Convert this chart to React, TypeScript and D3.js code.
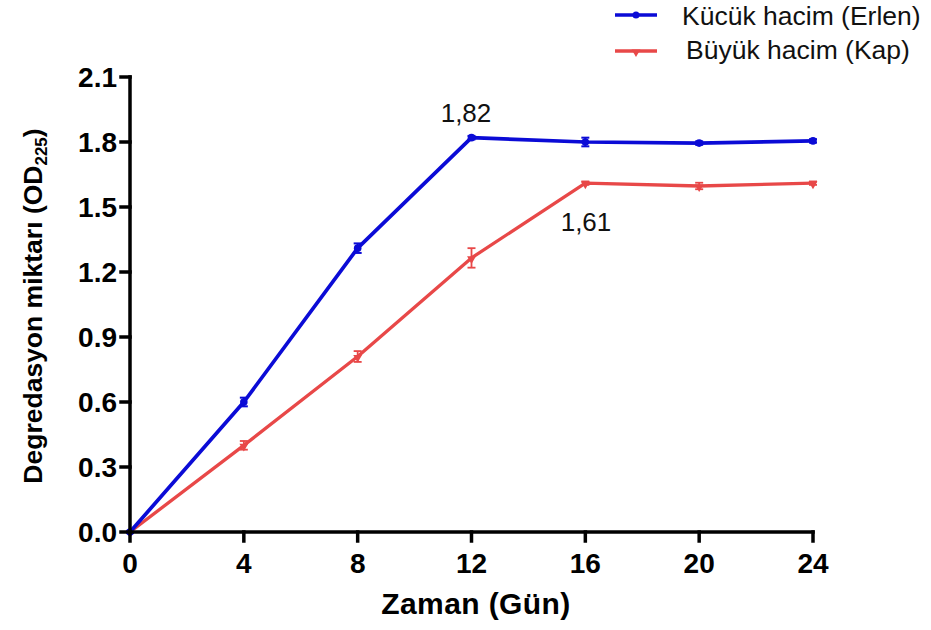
import React from "react";
import * as d3 from "d3";

// Sampling days
const days = [0, 4, 8, 12, 16, 20, 24];

// Small volume (flask) series
const smallVolume = [0, 0.6, 1.31, 1.82, 1.8, 1.795, 1.805];
const smallVolumeErr = [0.005, 0.02, 0.022, 0.008, 0.02, 0.008, 0.008];

// Large volume (container) series
const largeVolume = [0, 0.4, 0.81, 1.265, 1.61, 1.597, 1.61];
const largeVolumeErr = [0.005, 0.02, 0.025, 0.045, 0.008, 0.015, 0.008];

const xTicks = [0, 4, 8, 12, 16, 20, 24];
const yTicks = [0, 0.3, 0.6, 0.9, 1.2, 1.5, 1.8, 2.1];

const seriesNames = ["Kücük hacim (Erlen)", "Büyük hacim (Kap)"];
const peakLabels = ["1,82", "1,61"];

const W = 931;
const H = 630;
const BLUE = "#0b0bd6";
const RED = "#e84848";
const FONT = "'Liberation Sans', Arial, sans-serif";

export default function App() {
  const x = d3.scaleLinear().domain([0, 24]).range([130, 813]);
  const y = d3.scaleLinear().domain([0, 2.1]).range([532, 77]);

  const line = d3
    .line<[number, number]>()
    .x((d) => x(d[0]))
    .y((d) => y(d[1]));

  const blueData = days.map((d, i) => [d, smallVolume[i]] as [number, number]);
  const redData = days.map((d, i) => [d, largeVolume[i]] as [number, number]);

  const tri = d3.symbol().type(d3.symbolTriangle).size(34)();

  const errorBars = (vals: number[], errs: number[], color: string, w: number) =>
    days.map((d, i) => {
      const cx = x(d);
      const y0 = y(vals[i] - errs[i]);
      const y1 = y(vals[i] + errs[i]);
      return (
        <g key={`e${i}`} stroke={color} strokeWidth={w}>
          <line x1={cx} x2={cx} y1={y0} y2={y1} />
          <line x1={cx - 4} x2={cx + 4} y1={y0} y2={y0} />
          <line x1={cx - 4} x2={cx + 4} y1={y1} y2={y1} />
        </g>
      );
    });

  return (
    <svg
      width={W}
      height={H}
      style={{ position: "absolute", left: 0, top: 0, background: "#fff" }}
      fontFamily={FONT}
    >
      {/* Legend */}
      <g>
        <line x1={615} x2={657} y1={15} y2={15} stroke={BLUE} strokeWidth={3.5} />
        <circle cx={636} cy={15} r={3.5} fill={BLUE} />
        <text x={682} y={25} fontSize={26.5} fill="#111">
          {seriesNames[0]}
        </text>
        <line x1={615} x2={657} y1={51} y2={51} stroke={RED} strokeWidth={3.5} />
        <path d={tri!} transform={`translate(636,52) rotate(180)`} fill={RED} />
        <text x={686} y={59} fontSize={26.5} fill="#111">
          {seriesNames[1]}
        </text>
      </g>

      {/* Series lines */}
      <path d={line(redData)!} fill="none" stroke={RED} strokeWidth={3.3} strokeLinejoin="round" />
      <path d={line(blueData)!} fill="none" stroke={BLUE} strokeWidth={3.7} strokeLinejoin="round" />

      {errorBars(largeVolume, largeVolumeErr, RED, 1.8)}
      {errorBars(smallVolume, smallVolumeErr, BLUE, 2)}

      {redData.map((d, i) => (
        <path key={`r${i}`} d={tri!} transform={`translate(${x(d[0])},${y(d[1]) + 1}) rotate(180)`} fill={RED} />
      ))}
      {blueData.map((d, i) => (
        <circle key={`b${i}`} cx={x(d[0])} cy={y(d[1])} r={3.8} fill={BLUE} />
      ))}

      {/* Peak value labels */}
      <text x={466} y={y(smallVolume[3]) - 16} fontSize={26} textAnchor="middle" fill="#111">
        {peakLabels[0]}
      </text>
      <text x={586} y={y(largeVolume[4]) + 48} fontSize={26} textAnchor="middle" fill="#111">
        {peakLabels[1]}
      </text>

      {/* Axes */}
      <g stroke="#000" strokeWidth={3.5} strokeLinecap="square">
        <line x1={130} x2={130} y1={y(2.1)} y2={y(0)} />
        <line x1={130} x2={813} y1={y(0)} y2={y(0)} />
        {yTicks.map((t) => (
          <line key={`yt${t}`} x1={121} x2={130} y1={y(t)} y2={y(t)} />
        ))}
        {xTicks.map((t) => (
          <line key={`xt${t}`} x1={x(t)} x2={x(t)} y1={y(0)} y2={y(0) + 9} />
        ))}
      </g>
      {yTicks.map((t) => (
        <text
          key={`yl${t}`}
          x={117}
          y={y(t) + 10}
          textAnchor="end"
          fontSize={28}
          fontWeight="bold"
          fill="#000"
        >
          {t.toFixed(1)}
        </text>
      ))}
      {xTicks.map((t) => (
        <text
          key={`xl${t}`}
          x={x(t)}
          y={573}
          textAnchor="middle"
          fontSize={28}
          fontWeight="bold"
          fill="#000"
        >
          {t}
        </text>
      ))}

      {/* Axis titles */}
      <text x={476} y={614} textAnchor="middle" fontSize={30} fontWeight="bold" letterSpacing={0.4} fill="#000">
        Zaman (Gün)
      </text>
      <text
        transform="translate(42,306) rotate(-90)"
        textAnchor="middle"
        fontSize={26.5}
        fontWeight="bold"
        fill="#000"
      >
        Degredasyon miktarı (OD
        <tspan fontSize={17} dy={5}>225</tspan>
        <tspan dy={-5}>)</tspan>
      </text>
    </svg>
  );
}
